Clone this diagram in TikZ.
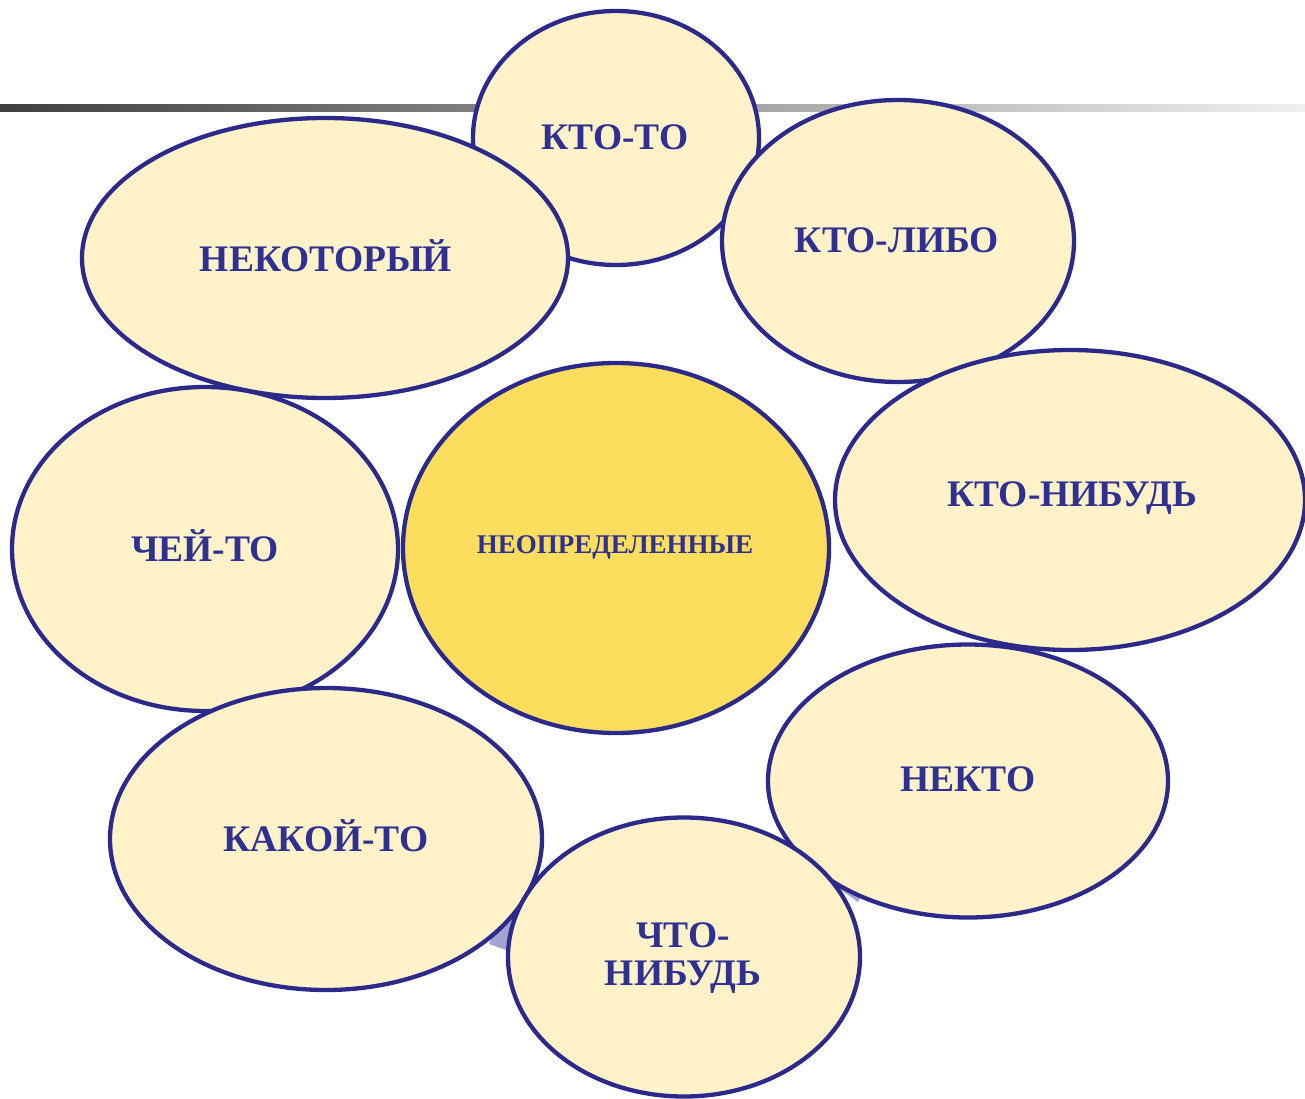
\documentclass[tikz,border=0pt]{standalone}
\usepackage{fontspec}
\setmainfont{Liberation Serif}
\definecolor{cream}{HTML}{FFF2C9}
\definecolor{gold}{HTML}{FCDD5E}
\definecolor{rim}{HTML}{2B2A8A}
\definecolor{ink}{HTML}{2E3192}
\definecolor{lav}{HTML}{A3A3D2}
\tikzset{
  blob/.style={ellipse, draw=rim, line width=4.3pt, fill=cream, inner sep=0pt},
  lbl/.style={text=ink, font=\fontsize{37.5}{38}\selectfont\bfseries, align=center},
}
\usetikzlibrary{shapes.geometric}
\begin{document}
\begin{tikzpicture}[x=1pt,y=-1pt]
\useasboundingbox (0,0) rectangle (1305,1099);
% gradient bar
\shade[left color=black!75, right color=black!6] (0,105) rectangle (1305,112);
% lavender shadow bits
\fill[lav] (489,944) -- (509,951) -- (520,915) -- (502,915) -- cycle;
\fill[lav] (840,889) -- (858,902) -- (870,880) -- (842,870) -- cycle;
% ellipses
\node[blob, minimum width=286pt, minimum height=254pt] (kto) at (616,138) {};
\node[blob, minimum width=486pt, minimum height=280pt] (nekot) at (325,258) {};
\node[blob, minimum width=352pt, minimum height=282pt] (ktolibo) at (898,241) {};
\node[blob, minimum width=386pt, minimum height=324pt] (chey) at (205,549) {};
\node[blob, minimum width=470pt, minimum height=300pt] (ktonib) at (1070,500) {};
\node[blob, fill=gold, minimum width=426pt, minimum height=370pt] (center) at (616,548) {};
\node[blob, minimum width=400pt, minimum height=273pt] (nekto) at (968,781) {};
\node[blob, minimum width=432pt, minimum height=302pt] (kakoy) at (326,839) {};
\node[blob, minimum width=352pt, minimum height=279pt] (chto) at (684,957) {};
% labels
\node[lbl] (t1) at (615,137) {КТО-ТО};
\node[lbl] (t2) at (326,256) {НЕКОТОРЫЙ};
\node[lbl] (t3) at (897,240) {КТО-ЛИБО};
\node[lbl] (t4) at (205,546) {ЧЕЙ-ТО};
\node[lbl] (t5) at (1072,498) {КТО-НИБУДЬ};
\node[lbl, font=\fontsize{27}{28}\selectfont\bfseries] (t6) at (615,547) {НЕОПРЕДЕЛЕННЫЕ};
\node[lbl] (t7) at (968,779) {НЕКТО};
\node[lbl] (t8) at (326,836) {КАКОЙ-ТО};
\node[lbl] (t9) at (683,958) {ЧТО-\\НИБУДЬ};
\end{tikzpicture}
\end{document}
